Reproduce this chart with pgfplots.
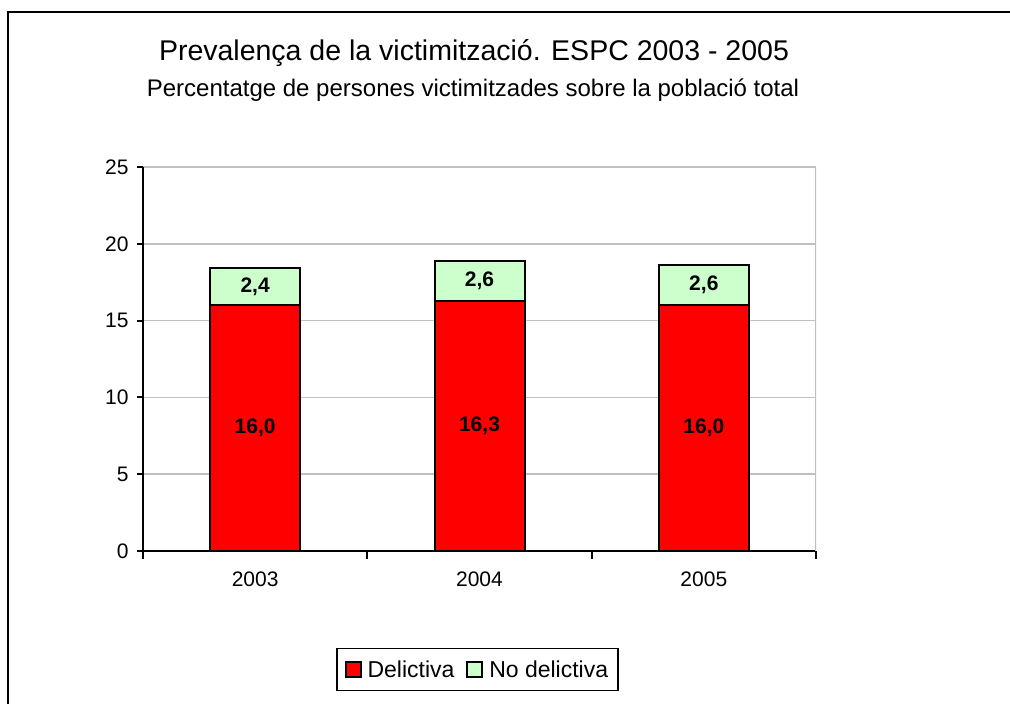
\documentclass[border=0pt]{standalone}
\usepackage{pgfplots}
\usepackage{pgfplotstable}
\pgfplotsset{compat=1.18}
\usepackage{fontspec}
\setmainfont{Liberation Sans}
\definecolor{delred}{HTML}{FF0000}
\definecolor{nodgreen}{HTML}{CCFFCC}
\definecolor{gridgray}{HTML}{C0C0C0}
\pgfplotstableread{
x del nodel dl ndl
0 16.0 2.4 16,0 2,4
1 16.3 2.6 16,3 2,6
2 16.0 2.6 16,0 2,6
}\data
\begin{document}
\begin{tikzpicture}
\useasboundingbox (0pt,0pt) rectangle (1010pt,704pt);
\draw[line width=1.8pt] (7.7pt,-5pt) -- (7.7pt,692.3pt) -- (1015pt,692.3pt);
\node[anchor=base, font=\fontsize{28.5}{32}\selectfont, inner sep=0pt] at (474pt,643pt) {Prevalença de la victimització. ESPC 2003 - 2005};
\node[anchor=base, font=\fontsize{24}{28}\selectfont, inner sep=0pt] at (473pt,607.3pt) {Percentatge de persones victimitzades sobre la població total};
\begin{axis}[
  at={(143pt,153pt)}, anchor=south west,
  scale only axis, width=673pt, height=384pt,
  ybar stacked, bar width=90pt,
  xmin=-0.5, xmax=2.5, ymin=0, ymax=25,
  ytick={0,5,...,25},
  xtick={0,1,2}, xticklabels={2003,2004,2005},
  minor xtick={-0.5,0.5,1.5,2.5},
  axis x line*=bottom, axis y line*=left,
  axis line style={line width=2pt, -},
  tick align=outside,
  major tick length=6pt, minor tick length=8pt,
  major x tick style={draw=none},
  minor x tick style={black, line width=2pt},
  y tick style={black, line width=2pt},
  ymajorgrids, grid style={gridgray, line width=1.6pt},
  /pgf/number format/assume math mode=true,
  tick label style={font=\fontsize{21}{25}\selectfont},
  yticklabel style={xshift=-5pt},
  xticklabel style={yshift=-11pt},
  legend style={at={(0.497,-0.3086)}, anchor=center, draw=black, line width=1.8pt,
    font=\fontsize{23}{27}\selectfont, legend columns=2, inner xsep=8pt, inner ysep=10pt,
    /tikz/every odd column/.append style={column sep=4pt},
    /tikz/every even column/.append style={column sep=10pt}},
  legend image code/.code={\draw[#1, line width=1.8pt] (0pt,-7.5pt) rectangle (15pt,7.5pt);},
]
\addplot[fill=delred, draw=black, line width=2pt,
  nodes near coords, point meta=explicit symbolic,
  every node near coord/.append style={font=\bfseries\fontsize{21}{25}\selectfont, anchor=center}]
  table[x=x, y=del, meta=dl]{\data};
\addplot[fill=nodgreen, draw=black, line width=2pt,
  nodes near coords, point meta=explicit symbolic,
  every node near coord/.append style={font=\bfseries\fontsize{21}{25}\selectfont, anchor=center}]
  table[x=x, y=nodel, meta=ndl]{\data};
\legend{Delictiva, No delictiva}
\draw[gridgray, line width=1.6pt] (rel axis cs:1,0) -- (rel axis cs:1,1);
\end{axis}
\end{tikzpicture}
\end{document}
